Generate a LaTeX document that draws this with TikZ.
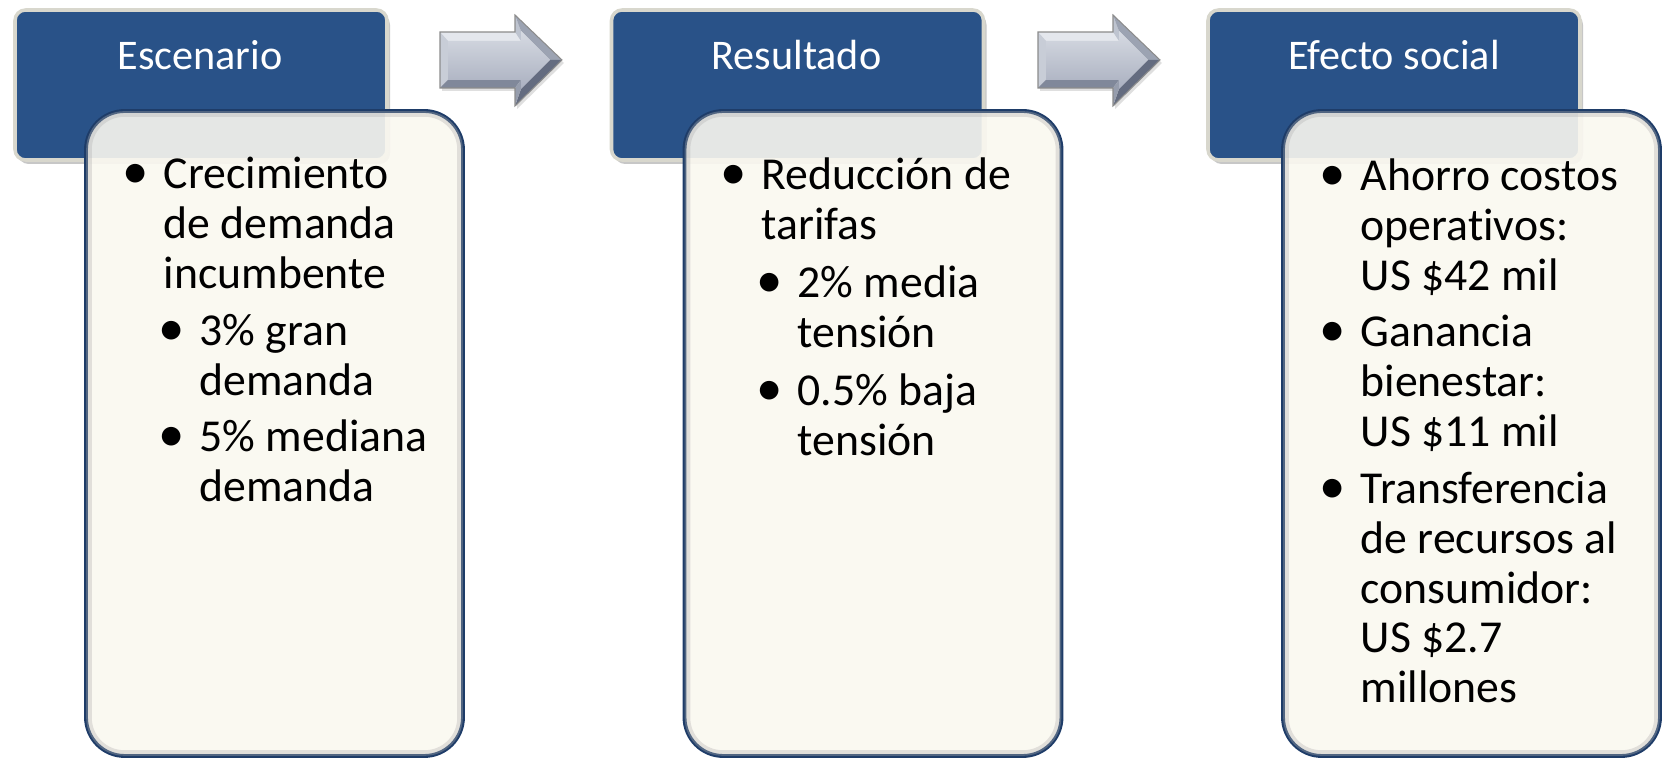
\documentclass[tikz,border=0pt]{standalone}
\usepackage{fontspec}
\setmainfont{Carlito}[Ligatures=NoCommon]
\definecolor{hdrblue}{RGB}{41,82,136}
\definecolor{hdrrim}{RGB}{216,215,205}
\definecolor{cream}{RGB}{250,248,240}
\definecolor{navy}{RGB}{30,60,104}
\newcommand{\plines}[1]{\parbox[t]{6cm}{\raggedright #1}}
\newcommand{\bevarrow}[2]{%
 \begin{scope}[shift={(#1,0)}]
  \coordinate (#2A) at (440,32); \coordinate (#2B) at (515,32); \coordinate (#2C) at (515,15);
  \coordinate (#2D) at (562,60); \coordinate (#2E) at (515,106); \coordinate (#2F) at (515,88);
  \coordinate (#2G) at (440,88);
  \coordinate (#2a) at (448,41); \coordinate (#2b) at (521,41); \coordinate (#2c) at (521,31);
  \coordinate (#2d) at (550,60); \coordinate (#2e) at (521,89); \coordinate (#2f) at (521,80);
  \coordinate (#2g) at (448,80);
  \fill[black!25,opacity=0.5] ([shift={(2,3)}]#2A) -- ([shift={(2,3)}]#2B) -- ([shift={(2,3)}]#2C) -- ([shift={(2,3)}]#2D) -- ([shift={(2,3)}]#2E) -- ([shift={(2,3)}]#2F) -- ([shift={(2,3)}]#2G) -- cycle;
  \fill[arrtop] (#2A) -- (#2B) -- (#2b) -- (#2a) -- cycle;
  \fill[arrleft] (#2A) -- (#2a) -- (#2g) -- (#2G) -- cycle;
  \fill[arrbot] (#2G) -- (#2g) -- (#2f) -- (#2F) -- cycle;
  \fill[arrhl] (#2B) -- (#2C) -- (#2c) -- (#2b) -- cycle;
  \fill[arrhu] (#2C) -- (#2D) -- (#2d) -- (#2c) -- cycle;
  \fill[arrhd] (#2D) -- (#2E) -- (#2e) -- (#2d) -- cycle;
  \fill[arrhb] (#2F) -- (#2f) -- (#2e) -- (#2E) -- cycle;
  \shade[top color=arrface1,bottom color=arrface2] (#2a) -- (#2b) -- (#2c) -- (#2d) -- (#2e) -- (#2f) -- (#2g) -- cycle;
  \draw[arredge] (#2A) -- (#2B) -- (#2C) -- (#2D) -- (#2E) -- (#2F) -- (#2G) -- cycle;
 \end{scope}}
\definecolor{arrface1}{RGB}{214,218,226}
\definecolor{arrface2}{RGB}{170,176,192}
\definecolor{arrtopc}{RGB}{228,231,237}
\definecolor{arrleftc}{RGB}{200,205,215}
\definecolor{arrbotc}{RGB}{128,136,154}
\definecolor{arrhlc}{RGB}{190,196,208}
\definecolor{arrhuc}{RGB}{156,163,178}
\definecolor{arrhdc}{RGB}{100,108,128}
\definecolor{arrhbc}{RGB}{150,157,173}
\tikzset{
 arrtop/.style={fill=arrtopc}, arrleft/.style={fill=arrleftc}, arrbot/.style={fill=arrbotc},
 arrhl/.style={fill=arrhlc}, arrhu/.style={fill=arrhuc}, arrhd/.style={fill=arrhdc},
 arrhb/.style={fill=arrhbc}, arredge/.style={draw=black!45, line width=0.3pt},
 hdr/.style={fill=hdrblue, draw=hdrrim, line width=1pt, rounded corners=3pt},
 hdrshadow/.style={fill=black, opacity=0.22, rounded corners=3pt},
 content/.style={fill=cream, fill opacity=0.9, draw=navy, draw opacity=1, line width=1.1pt, rounded corners=11pt},
 innershade/.style={draw=black!30, opacity=0.35, line width=1.6pt, rounded corners=10pt},
 hdrtxt/.style={anchor=base, inner sep=0pt, text=white, font=\fontsize{12}{14}\selectfont},
 txt/.style={anchor=base west, inner sep=0pt, font=\fontsize{13}{14.1}\selectfont},
 bul/.style={anchor=base, inner sep=0pt, font=\fontsize{15}{14.1}\selectfont},
}
\begin{document}
\begin{tikzpicture}[x=0.01cm,y=-0.01cm]
\useasboundingbox (0,0) rectangle (1662,758);
% headers
\foreach \dx in {0,596.5,1193}{
  \fill[hdrshadow] (15+\dx+3,10+4) rectangle (387+\dx+3,160+4);
  \path[hdr] (15+\dx,10) rectangle (387+\dx,160);
}
\coordinate (h1c) at (200,70);
\coordinate (h2c) at (796.5,70);
\coordinate (h3c) at (1394,70);
\node[hdrtxt] (h1t) at (h1c) {Escenario};
\node[hdrtxt] (h2t) at (h2c) {Resultado};
\node[hdrtxt] (h3t) at (h3c) {Efecto social};
% arrows
\bevarrow{0}{p}
\bevarrow{598}{q}
% content boxes
\foreach \dx in {0,598.5,1197}{
  \path[content] (86+\dx,111) rectangle (463+\dx,756);
  \draw[innershade] (86+\dx+3,111+3) rectangle (463+\dx-3,756-3);
}
% box 1
\node[bul] (b1a) at (136,189) {•};
\node[txt] (t1a) at (163,189) {\plines{Crecimiento\\de demanda\\incumbente}};
\node[bul] (b1b) at (172,346) {•};
\node[txt] (t1b) at (199,346) {\plines{3\% gran\\demanda}};
\node[bul] (b1c) at (172,452) {•};
\node[txt] (t1c) at (199,452) {\plines{5\% mediana\\demanda}};
% box 2
\node[bul] (b2a) at (734,190) {•};
\node[txt] (t2a) at (761,190) {\plines{Reducción de\\tarifas}};
\node[bul] (b2b) at (770,298) {•};
\node[txt] (t2b) at (797,298) {\plines{2\% media\\tensión}};
\node[bul] (b2c) at (770,406) {•};
\node[txt] (t2c) at (797,406) {\plines{0.5\% baja\\tensión}};
% box 3
\node[bul] (b3a) at (1333,191) {•};
\node[txt] (t3a) at (1360,191) {\plines{Ahorro costos\\operativos:\\US \$42 mil}};
\node[bul] (b3b) at (1333,347) {•};
\node[txt] (t3b) at (1360,347) {\plines{Ganancia\\bienestar:\\US \$11 mil}};
\node[bul] (b3c) at (1333,504) {•};
\node[txt] (t3c) at (1360,504) {\plines{Transferencia\\de recursos al\\consumidor:\\US \$2.7\\millones}};
\end{tikzpicture}
\end{document}
